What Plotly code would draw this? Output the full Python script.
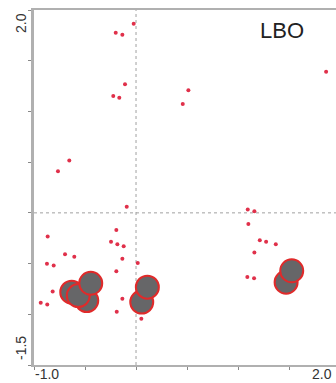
import plotly.graph_objects as go

# small points (scores)
small_x = [-0.023, -0.199, -0.134, -0.108, -0.223, -0.164, -0.654, -0.765, 0.513, 0.458,
           1.863, -0.091, -0.866, -0.193, -0.245, -0.183, -0.121, -0.696, -0.605, -0.873,
           -0.807, -0.134, 0.017, -0.193, -0.817, -0.934, -0.870, -0.134, -0.189, 0.052,
           1.095, 1.160, 1.101, 1.213, 1.275, 1.370, 1.160, 1.091, 1.157]
small_y = [1.865, 1.776, 1.757, 1.267, 1.152, 1.135, 0.515, 0.410, 1.208, 1.074,
           1.390, 0.061, -0.233, -0.169, -0.286, -0.309, -0.328, -0.407, -0.433, -0.502,
           -0.518, -0.453, -0.495, -0.576, -0.776, -0.887, -0.904, -0.848, -0.975, -1.044,
           0.034, 0.015, -0.110, -0.270, -0.286, -0.309, -0.390, -0.632, -0.645]

# large circles (drawn in order, later ones on top)
big_x = [-0.483, -0.630, -0.566, -0.444, 0.056, 0.111, 1.471, 1.526]
big_y = [-0.865, -0.782, -0.816, -0.694, -0.880, -0.733, -0.684, -0.571]

tick_vals_x = [-1.0, -0.5, 0.0, 0.5, 1.0, 1.5, 2.0]
tick_vals_y = [-1.5, -1.0, -0.5, 0.0, 0.5, 1.0, 1.5, 2.0]
panel_label = "LBO"

fig = go.Figure()
fig.add_trace(go.Scatter(x=small_x, y=small_y, mode="markers",
                         marker=dict(size=4, color="#e0304a", line=dict(width=0)),
                         hoverinfo="skip", showlegend=False))
fig.add_trace(go.Scatter(x=big_x, y=big_y, mode="markers",
                         marker=dict(size=23, color="#666668", line=dict(width=2, color="#e02a2a")),
                         hoverinfo="skip", showlegend=False))

fig.add_shape(type="line", xref="x", yref="paper", x0=0, x1=0, y0=0, y1=1,
              line=dict(color="#a0a0a0", width=1, dash="dot"), layer="below")
fig.add_shape(type="line", xref="paper", yref="y", x0=0, x1=1, y0=0, y1=0,
              line=dict(color="#a0a0a0", width=1, dash="dot"), layer="below")

W, H = 336, 383
L, R, T, B = 34, 0, 10, 18
pw, ph = W - L - R, H - T - B

def px(xp):
    return (xp - L) / pw

def py(yp):
    return (H - B - yp) / ph

font = dict(family="Liberation Sans, Arial, sans-serif", color="#333333", size=14)

def label(xp, yp, text, angle=0, f=font, xanchor="center"):
    fig.add_annotation(x=px(xp), y=py(yp), xref="paper", yref="paper", text=text,
                       showarrow=False, textangle=angle, font=f,
                       xanchor=xanchor, yanchor="middle")

label(282, 30, panel_label, f=dict(family="Liberation Sans, Arial, sans-serif",
                                   color="#222222", size=22))
label(21, 23, "2.0", angle=-90)
label(21, 348, "-1.5", angle=-90)
label(47, 374, "-1.0")
label(334, 374, "2.0", xanchor="right")

fig.update_xaxes(range=[-1.0, 1.96], tickvals=tick_vals_x, showticklabels=False,
                 ticks="outside", ticklen=3, tickcolor="#888888",
                 showline=True, linecolor="#b0b0b0", linewidth=2, mirror=True,
                 showgrid=False, zeroline=False)
fig.update_yaxes(range=[-1.5, 2.0], tickvals=tick_vals_y, showticklabels=False,
                 ticks="outside", ticklen=3, tickcolor="#888888",
                 showline=True, linecolor="#b0b0b0", linewidth=3,
                 showgrid=False, zeroline=False)
fig.update_layout(width=W, height=H, autosize=False,
                  margin=dict(l=L, r=R, t=T, b=B),
                  paper_bgcolor="white", plot_bgcolor="white")
fig.write_html("out.html")
